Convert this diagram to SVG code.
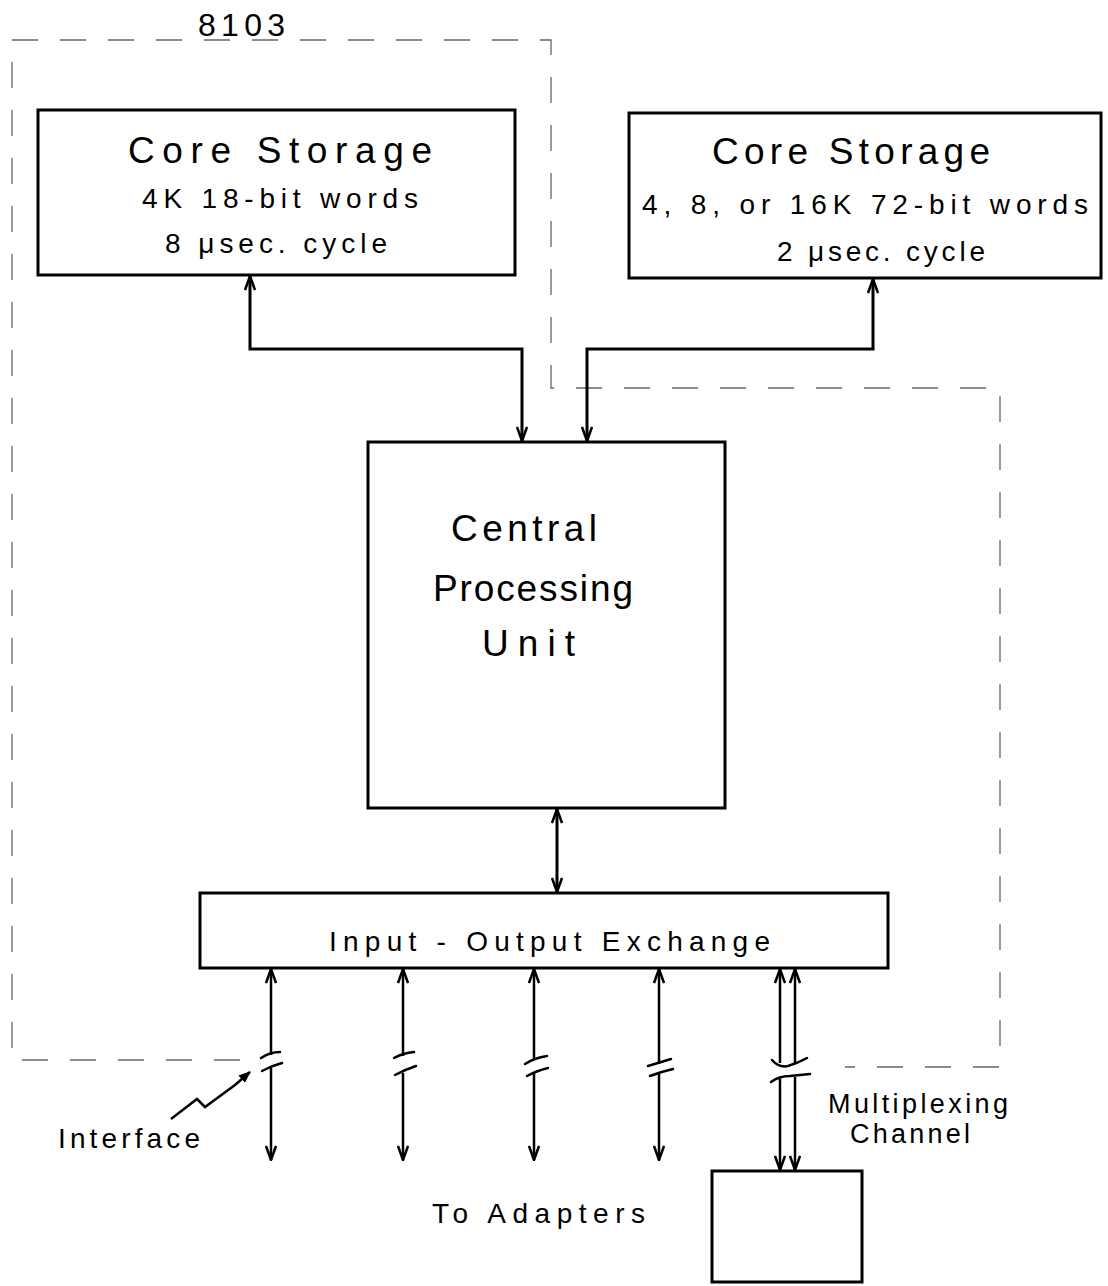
<svg xmlns="http://www.w3.org/2000/svg" width="1108" height="1286" viewBox="0 0 1108 1286">
<style>
  .box { fill: none; stroke: #000; stroke-width: 3; }
  .bound { fill: none; stroke: #666; stroke-width: 1.3; stroke-dasharray: 26 22; }
  .wire { fill: none; stroke: #000; stroke-width: 3; }
  .io { fill: none; stroke: #000; stroke-width: 2.5; }
  .brk { fill: none; stroke: #000; stroke-width: 2.5; stroke-linecap: round; }
  text { font-family: "Liberation Sans", Arial, sans-serif; fill: #000; text-anchor: start; }
  .t1 { font-size: 37px; }
  .t2 { font-size: 28px; }
  .t3 { font-size: 27px; }
</style>
<defs>
  <marker id="arr" viewBox="0 0 16 12" refX="15" refY="6" markerWidth="16" markerHeight="12" markerUnits="userSpaceOnUse" orient="auto-start-reverse">
    <path d="M1,1 L15,6 L1,11" fill="none" stroke="#000" stroke-width="2.5"/>
  </marker>
  <marker id="sarr" viewBox="0 0 12 10" refX="11" refY="5" markerWidth="12" markerHeight="10" markerUnits="userSpaceOnUse" orient="auto">
    <path d="M0,0 L12,5 L0,10 Z" fill="#000"/>
  </marker>
</defs>

<g id="boundary-8103">
  <path class="bound" d="M240,1060 L12,1060 L12,40 L551,40 L551,388 L1000,388 L1000,1067 L845,1067"/>
  <text x="198" y="36" style="font-size:32px" textLength="87" lengthAdjust="spacing">8103</text>
</g>

<g id="core-storage-4k">
  <rect class="box" x="38" y="110" width="477" height="165"/>
  <text class="t1" x="128" y="163" textLength="304" lengthAdjust="spacing">Core   Storage</text>
  <text class="t2" x="142" y="208" textLength="276" lengthAdjust="spacing">4K  18-bit words</text>
  <text class="t2" x="165" y="253" textLength="222" lengthAdjust="spacing">8 μsec. cycle</text>
</g>

<g id="core-storage-16k">
  <rect class="box" x="629" y="113" width="472" height="165"/>
  <text class="t1" x="712" y="164" textLength="278" lengthAdjust="spacing">Core   Storage</text>
  <text class="t2" x="642" y="214" textLength="446" lengthAdjust="spacing">4, 8, or 16K   72-bit words</text>
  <text class="t2" x="777" y="261" textLength="208" lengthAdjust="spacing">2 μsec. cycle</text>
</g>

<g id="cpu">
  <rect class="box" x="368" y="442" width="357" height="366"/>
  <text class="t1" x="451" y="541" textLength="146" lengthAdjust="spacing">Central</text>
  <text class="t1" x="433" y="601" textLength="200" lengthAdjust="spacing">Processing</text>
  <text class="t1" x="482" y="656" textLength="93" lengthAdjust="spacing">Unit</text>
</g>

<g id="io-exchange">
  <rect class="box" x="200" y="893" width="688" height="75"/>
  <text class="t2" x="329" y="951" textLength="441" lengthAdjust="spacing">Input - Output   Exchange</text>
</g>

<g id="multiplexing-box">
  <rect class="box" x="712" y="1171" width="150" height="111"/>
</g>

<g id="labels">
  <text class="t2" x="58" y="1148" textLength="142" lengthAdjust="spacing">Interface</text>
  <text class="t3" x="828" y="1113" textLength="180" lengthAdjust="spacing">Multiplexing</text>
  <text class="t3" x="850" y="1143" textLength="120" lengthAdjust="spacing">Channel</text>
  <text class="t2" x="432" y="1223" textLength="213" lengthAdjust="spacing">To Adapters</text>
</g>

<g id="connectors">
  <path class="wire" d="M250,276 L250,349 L522,349 L522,441" marker-start="url(#arr)" marker-end="url(#arr)"/>
  <path class="wire" d="M873,279 L873,349 L587,349 L587,441" marker-start="url(#arr)" marker-end="url(#arr)"/>
  <path class="wire" d="M557,809 L557,892" marker-start="url(#arr)" marker-end="url(#arr)"/>

  <path class="io" d="M271,969 L271,1055" marker-start="url(#arr)"/>
  <path class="io" d="M271,1068 L271,1160" marker-end="url(#arr)"/>
  <path class="brk" d="M261,1058 Q270,1052 280,1052"/>
  <path class="brk" d="M262,1071 Q271,1066 282,1063"/>

  <path class="io" d="M403,969 L403,1056" marker-start="url(#arr)"/>
  <path class="io" d="M403,1073 L403,1160" marker-end="url(#arr)"/>
  <path class="brk" d="M394,1058 Q403,1053 414,1052"/>
  <path class="brk" d="M395,1075 Q404,1070 416,1066"/>

  <path class="io" d="M534,969 L534,1060" marker-start="url(#arr)"/>
  <path class="io" d="M534,1073 L534,1160" marker-end="url(#arr)"/>
  <path class="brk" d="M525,1064 Q534,1058 547,1056"/>
  <path class="brk" d="M527,1076 Q536,1071 548,1068"/>

  <path class="io" d="M659,969 L659,1064" marker-start="url(#arr)"/>
  <path class="io" d="M659,1074 L659,1160" marker-end="url(#arr)"/>
  <path class="brk" d="M648,1066 Q658,1063 671,1059"/>
  <path class="brk" d="M650,1076 Q660,1072 673,1069"/>

  <path class="io" d="M780,969 L780,1063" marker-start="url(#arr)"/>
  <path class="io" d="M795,969 L795,1063" marker-start="url(#arr)"/>
  <path class="brk" d="M772,1060 Q779,1068 788,1066 Q798,1063 807,1058"/>
  <path class="brk" d="M771,1082 Q779,1076 790,1076 Q800,1075 810,1074"/>
  <path class="io" d="M780,1079 L780,1170" marker-end="url(#arr)"/>
  <path class="io" d="M795,1077 L795,1170" marker-end="url(#arr)"/>

  <path class="io" d="M171,1119 L197,1099 L205,1107 L235,1085 L250,1072" marker-end="url(#sarr)"/>
</g>
</svg>
